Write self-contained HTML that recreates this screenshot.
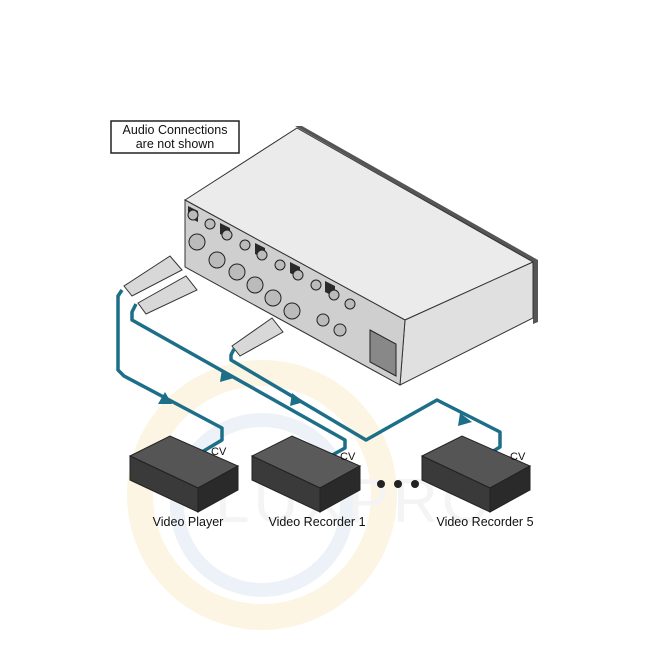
<!DOCTYPE html>
<html><head><meta charset="utf-8"><style>
html,body{margin:0;padding:0;background:#fff;}
svg{display:block;}
text{font-family:"Liberation Sans",sans-serif;}
</style></head><body>
<svg width="650" height="650" viewBox="0 0 650 650" xmlns="http://www.w3.org/2000/svg">
<!-- watermark -->
<circle cx="262" cy="495" r="122" fill="none" stroke="#fcf5e3" stroke-width="26"/>
<circle cx="262" cy="505" r="85" fill="none" stroke="#edf2f8" stroke-width="14"/>
<text x="215" y="522" font-size="62" fill="#f4f4f4" letter-spacing="4">LUXPRO</text>
<!-- label box -->
<rect x="111" y="121" width="128" height="32" fill="#fff" stroke="#222" stroke-width="1.5"/>
<text x="175" y="134" font-size="12.5" text-anchor="middle" fill="#111">Audio Connections</text>
<text x="175" y="148" font-size="12.5" text-anchor="middle" fill="#111">are not shown</text>
<!-- device -->
<polygon points="295,126 302,126 538,260 538,322 533,324 533,262" fill="#555"/>
<polygon points="185,200 297,128 533,262 405,320" fill="#ebebeb" stroke="#333" stroke-width="1"/>
<polygon points="405,320 533,262 533,318 400,385" fill="#e0e0e0" stroke="#333" stroke-width="1"/>
<polygon points="185,200 405,320 400,385 185,267" fill="#cfcfcf" stroke="#333" stroke-width="1"/>
<!-- slots -->
<g fill="#2a2a2a">
<polygon points="188,206 198,211 198,222 188,217"/>
<polygon points="220,223 230,228 230,239 220,234"/>
<polygon points="255,243 265,248 265,259 255,254"/>
<polygon points="290,262 300,267 300,278 290,273"/>
<polygon points="325,281 335,286 335,297 325,292"/>
</g>
<g fill="#bbb" stroke="#222" stroke-width="1">
<circle cx="193" cy="215" r="5"/><circle cx="210" cy="224" r="5"/><circle cx="227" cy="235" r="5"/><circle cx="245" cy="245" r="5"/>
<circle cx="262" cy="255" r="5"/><circle cx="280" cy="265" r="5"/><circle cx="298" cy="275" r="5"/><circle cx="316" cy="285" r="5"/>
<circle cx="334" cy="295" r="5"/><circle cx="350" cy="304" r="5"/>
<circle cx="197" cy="242" r="8"/><circle cx="217" cy="260" r="8"/><circle cx="237" cy="272" r="8"/><circle cx="255" cy="285" r="8"/><circle cx="273" cy="298" r="8"/><circle cx="292" cy="311" r="8"/>
<circle cx="323" cy="320" r="6"/><circle cx="340" cy="330" r="6"/>
</g>
<polygon points="370,330 396,344 396,376 370,362" fill="#888" stroke="#222"/>
<!-- BNC plugs -->
<g stroke="#333" stroke-width="1" fill="#d8d8d8">
<polygon points="124,286 170,256 182,270 132,296"/>
<polygon points="138,303 186,276 197,290 146,314"/>
<polygon points="232,346 272,318 283,332 240,356"/>
</g>
<!-- cables -->
<g fill="none" stroke="#1d6e88" stroke-width="3.5" stroke-linejoin="round">
<path d="M122,290 L118,296 L118,370 L124,376 L222,428 L222,440 L202,452"/>
<path d="M136,304 L132,312 L132,320 L345,440 L345,448 L327,458"/>
<path d="M234,349 L231,355 L231,360 L366,440 L437,400 L500,432 L500,447 L485,456"/>
</g>
<g fill="#1d6e88">
<polygon points="165,392 158,404 172,404"/>
<polygon points="234,378 222,369 220,382"/>
<polygon points="304,402 292,393 290,406"/>
<polygon points="472,422 460,413 458,426"/>
</g>
<!-- video devices -->
<g stroke="#222" stroke-width="1">
<polygon points="130,456 170,436 238,466 198,488" fill="#555"/>
<polygon points="130,456 198,488 198,512 130,480" fill="#3a3a3a"/>
<polygon points="198,488 238,466 238,490 198,512" fill="#2a2a2a"/>
<polygon points="252,456 292,436 360,466 320,488" fill="#5a5a5a"/>
<polygon points="252,456 320,488 320,512 252,480" fill="#3a3a3a"/>
<polygon points="320,488 360,466 360,490 320,512" fill="#2a2a2a"/>
<polygon points="422,456 462,436 530,466 490,488" fill="#555"/>
<polygon points="422,456 490,488 490,512 422,480" fill="#3a3a3a"/>
<polygon points="490,488 530,466 530,490 490,512" fill="#2a2a2a"/>
</g>
<g fill="#222"><circle cx="381" cy="484" r="4"/><circle cx="398" cy="484" r="4"/><circle cx="415" cy="484" r="4"/></g>
<g font-size="11" fill="#111">
<text x="211" y="455">CV</text><text x="340" y="460">CV</text><text x="510" y="460">CV</text>
</g>
<g font-size="12.5" fill="#111" text-anchor="middle">
<text x="188" y="526">Video Player</text><text x="317" y="526">Video Recorder 1</text><text x="485" y="526">Video Recorder 5</text>
</g>
</svg>
</body></html>
